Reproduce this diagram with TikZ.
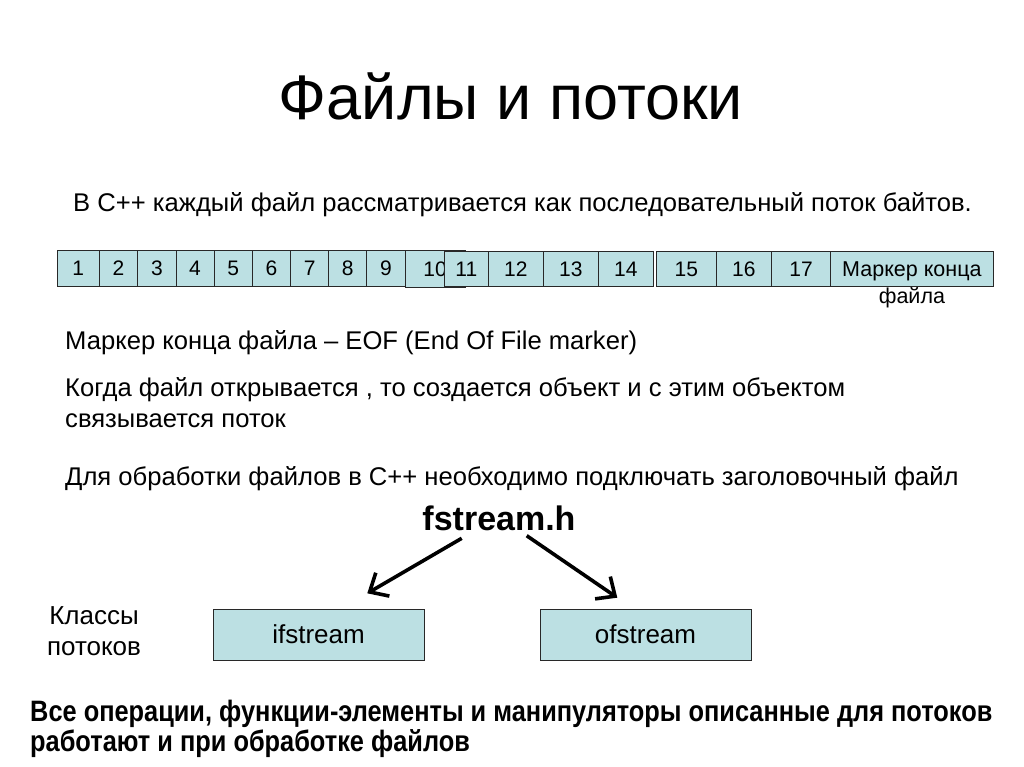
\documentclass[tikz,border=0pt]{standalone}
\usepackage{fontspec}
\setmainfont{Liberation Sans}
\newfontfamily\narrowfont[FakeStretch=0.86]{Liberation Sans}
\usetikzlibrary{arrows.meta}
\definecolor{cellfill}{RGB}{188,224,227}
\definecolor{celldraw}{RGB}{40,40,40}
\tikzset{
  cell/.style={draw=celldraw, fill=cellfill, line width=0.9pt, inner sep=0pt, outer sep=0pt,
    minimum height=36pt, text height=15pt, text depth=0pt, font=\fontsize{21}{23}\selectfont},
  body/.style={anchor=base west, inner sep=0pt, font=\fontsize{25.6}{30}\selectfont},
  clsbox/.style={draw=celldraw, fill=cellfill, line width=1pt, inner sep=0pt, outer sep=0pt,
    minimum width=211pt, minimum height=51pt, font=\fontsize{26}{30}\selectfont},
  bigarrow/.style={line width=3.6pt, -{Straight Barb[length=15pt,width=27pt]}},
  bottomtext/.style={anchor=base west, inner sep=0pt, font=\fontsize{29.5}{32}\narrowfont\bfseries}
}
\begin{document}
\begin{tikzpicture}[x=1pt,y=-1pt]
\useasboundingbox (0,0) rectangle (1024,767);
% title
\node[anchor=base, inner sep=0pt, font=\fontsize{63}{66}\selectfont] (title) at (511,120) {Файлы и потоки};
% first line
\node[body] (l1) at (73,211.5) {В С++ каждый файл рассматривается как последовательный поток байтов.};
% byte strip: cells 1..10
\node[cell, minimum width=42pt] (c1) at (78.3,268) {1};
\node[cell, minimum width=38.4pt] (c2) at (118.5,268) {2};
\node[cell, minimum width=38.3pt] (c3) at (156.85,268) {3};
\node[cell, minimum width=38pt] (c4) at (195,268) {4};
\node[cell, minimum width=38.3pt] (c5) at (233.15,268) {5};
\node[cell, minimum width=38.4pt] (c6) at (271.5,268) {6};
\node[cell, minimum width=38pt] (c7) at (309.7,268) {7};
\node[cell, minimum width=38pt] (c8) at (347.7,268) {8};
\node[cell, minimum width=38.3pt] (c9) at (385.85,268) {9};
\node[cell, minimum width=60pt, minimum height=37.5pt] (c10) at (435,268.75) {10};
% cells 11..14
\node[cell, minimum width=44pt, minimum height=34.5pt] (c11) at (466.3,268.75) {11};
\node[cell, minimum width=55pt, minimum height=34.5pt] (c12) at (515.8,268.75) {12};
\node[cell, minimum width=55pt, minimum height=34.5pt] (c13) at (570.8,268.75) {13};
\node[cell, minimum width=55pt, minimum height=34.5pt] (c14) at (625.8,268.75) {14};
% cells 15..17 and marker
\node[cell, minimum width=59.5pt, minimum height=34.5pt] (c15) at (686.25,268.75) {15};
\node[cell, minimum width=55.5pt, minimum height=34.5pt] (c16) at (743.75,268.75) {16};
\node[cell, minimum width=59.3pt, minimum height=34.5pt] (c17) at (801.15,268.75) {17};
\node[cell, minimum width=162.2pt, minimum height=34.5pt, font=\fontsize{21.5}{23}\selectfont] (eof) at (911.9,268.75) {Маркер конца};
\node[anchor=base, inner sep=0pt, font=\fontsize{21.5}{23}\selectfont] (eof2) at (911.9,303.5) {файла};
% body text
\node[body] (l2) at (65,349) {Маркер конца файла – EOF (End Of File marker)};
\node[body] (l3) at (65,396) {Когда файл открывается , то создается объект и с этим объектом};
\node[body] (l4) at (65,427) {связывается поток};
\node[body] (l5) at (65,485) {Для обработки файлов в С++ необходимо подключать заголовочный файл};
\node[anchor=base, inner sep=0pt, font=\fontsize{34}{36}\selectfont\bfseries] (fst) at (499,530) {fstream.h};
% arrows
\coordinate (a1s) at (461.7,538.3);
\coordinate (a1e) at (367.3,593.3);
\coordinate (a2s) at (526.7,535.7);
\coordinate (a2e) at (617.3,597.7);
\draw[bigarrow] (a1s) -- (a1e);
\draw[bigarrow] (a2s) -- (a2e);
% class boxes
\node[clsbox] (ifs) at (318.5,634.5) {ifstream};
\node[clsbox] (ofs) at (645.5,634.5) {ofstream};
\node[anchor=base, inner sep=0pt, font=\fontsize{26}{30}\selectfont] (k1) at (94,624) {Классы};
\node[anchor=base, inner sep=0pt, font=\fontsize{26}{30}\selectfont] (k2) at (94,655) {потоков};
% bottom text
\node[bottomtext] (b1) at (30,721) {Все операции, функции-элементы и манипуляторы описанные для потоков};
\node[bottomtext] (b2) at (30,751) {работают и при обработке файлов};
\end{tikzpicture}
\end{document}
